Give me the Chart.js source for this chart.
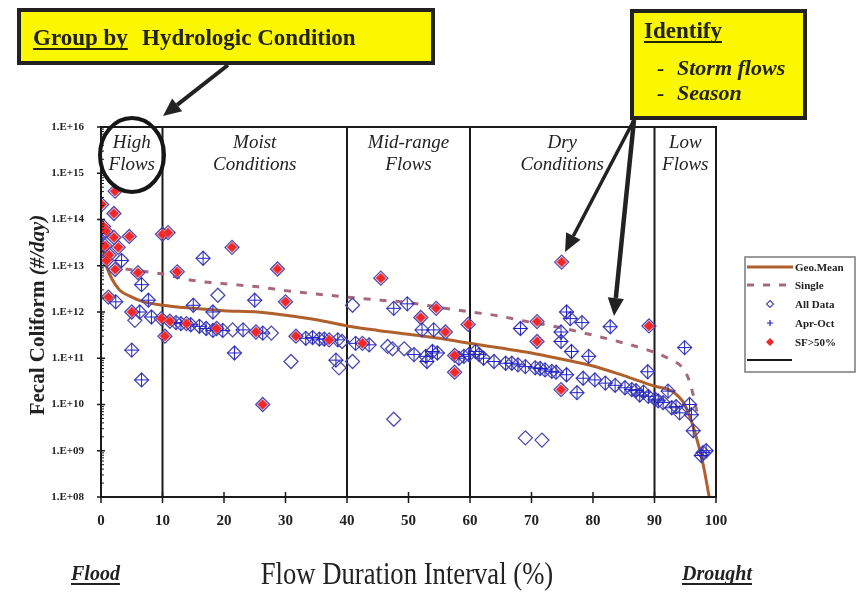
<!DOCTYPE html>
<html lang="en">
<head>
<meta charset="UTF-8">
<title>Fecal Coliform Load Duration Curve</title>
<script src="https://cdn.jsdelivr.net/npm/chart.js"></script>
<style>
  html, body { margin: 0; padding: 0; background: #fff; }
  #wrap { width: 868px; height: 597px; }
</style>
</head>
<body>
<div id="wrap"><canvas id="ldc" width="868" height="597"></canvas></div>
<script>
// x = flow duration interval (%), y = fecal coliform load (#/day)
const geoMeanX = [0.2, 0.5, 1, 1.8, 3, 5, 6.7, 10, 15, 20, 25.5, 30, 35, 40, 45, 50, 55, 60, 65, 70, 75, 80, 85, 90, 92.8, 94.9, 96.5, 97.9, 98.9];
const geoMeanY = [3.7e13, 1.6e13, 8.9e12, 5.1e12, 3.0e12, 2.1e12, 1.7e12, 1.4e12, 1.2e12, 1.07e12, 1.0e12, 8.5e11, 6.8e11, 5.0e11, 4.0e11, 3.3e11, 2.7e11, 2.1e11, 1.66e11, 1.3e11, 9.5e10, 6.8e10, 4.2e10, 2.5e10, 1.95e10, 1.0e10, 2.7e9, 5.1e8, 1.0e8];

const singleX = [4, 10, 15, 20, 25.5, 30, 35, 40, 45.5, 50, 55, 59, 64.5, 69, 74, 79.8, 85.2, 87.9, 90.3, 92.8, 94.4, 95.5, 96.3, 97.1];
const singleY = [8.5e12, 6.6e12, 4.8e12, 4.1e12, 3.5e12, 2.9e12, 2.45e12, 2.1e12, 1.8e12, 1.6e12, 1.26e12, 1.05e12, 8.3e11, 6.3e11, 4.8e11, 3.2e11, 2.1e11, 1.66e11, 1.3e11, 9.1e10, 6.6e10, 3.7e10, 1.6e10, 5.2e9];

// samples with single sample > 50% flagged (red)
const sfX = [2.3, 0.1, 2.1, 0.4, 0.8, 2.1, 4.6, 2.8, 1.35, 0.65, 0.9, 2.3, 6.0, 1.2, 5.0, 10.0, 10.9, 12.4, 21.3, 28.7, 30.0, 9.8, 10.4, 11.2, 13.9, 18.8, 25.2, 26.3, 31.7, 37.1, 42.5, 45.5, 54.5, 52.0, 56.0, 59.7, 57.5, 57.5, 74.9, 74.8, 70.9, 70.9, 89.1];
const sfY = [4.1e14, 2.1e14, 1.35e14, 7.1e13, 5.6e13, 4.1e13, 4.3e13, 2.5e13, 1.7e13, 2.7e13, 1.3e13, 8.3e12, 7.1e12, 2.1e12, 1.0e12, 4.8e13, 5.2e13, 7.4e12, 2.5e13, 8.5e12, 1.66e12, 7.2e11, 3.0e11, 6.3e11, 5.6e11, 4.4e11, 3.7e11, 1.0e10, 3.0e11, 2.5e11, 2.1e11, 5.4e12, 1.2e12, 7.6e11, 3.7e11, 5.4e11, 1.15e11, 5.0e10, 1.2e13, 2.1e10, 6.2e11, 2.3e11, 5.0e11];

// samples taken April - October
const aprOctX = [3.35, 6.6, 2.4, 7.7, 6.3, 8.2, 5.0, 6.6, 0.2,
  16.6, 25.0, 15.0, 18.2, 12.2, 13.0, 14.6, 16.0, 17.1, 18.2, 19.8, 23.1, 26.3, 21.7, 33.3, 34.4, 35.5, 36.3, 38.5, 38.2,
  41.4, 43.6, 47.6, 49.8, 52.2, 54.1, 50.9, 52.8, 53.9, 54.7, 53.0, 58.2, 59.0, 59.8,
  60.9, 61.5, 62.2, 63.9, 65.8, 66.8, 67.8, 69.0, 70.6, 71.4, 72.2, 73.3, 74.0, 75.7, 77.4, 78.4, 80.3, 82.0, 83.6, 85.2, 86.3, 87.0,
  68.2, 75.7, 78.2, 74.8, 74.8, 76.5, 79.3, 82.8, 76.3, 88.9, 87.6, 89.0, 88.2,
  90.1, 91.4, 92.2, 92.8, 94.1, 95.7, 96.0, 96.3, 94.9, 97.9, 98.4, 97.6, 90.6, 93.5];
const aprOctY = [1.3e13, 3.9e12, 1.66e12, 1.8e12, 1.0e12, 7.8e11, 1.5e11, 3.4e10, 5.0e13,
  1.45e13, 1.8e12, 1.4e12, 1.0e12, 5.9e11, 5.6e11, 5.3e11, 4.9e11, 4.4e11, 4.0e11, 4.0e11, 4.1e11, 3.5e11, 1.3e11, 2.7e11, 2.8e11, 2.6e11, 2.6e11, 2.5e11, 9.1e10,
  2.1e11, 1.95e11, 1.2e12, 1.5e12, 4.1e11, 4.1e11, 1.2e11, 1.1e11, 1.4e11, 1.3e11, 8.5e10, 1.0e11, 1.1e11, 1.2e11,
  1.4e11, 1.2e11, 1.0e11, 8.5e10, 7.8e10, 7.8e10, 7.2e10, 6.6e10, 6.2e10, 6.0e10, 5.6e10, 5.2e10, 5.0e10, 4.4e10, 1.8e10, 3.7e10, 3.4e10, 2.9e10, 2.6e10, 2.3e10, 2.1e10, 2.0e10,
  4.4e11, 1.0e12, 5.9e11, 3.7e11, 2.3e11, 1.4e11, 1.1e11, 4.8e11, 7.2e11, 5.1e10, 1.6e10, 1.5e10, 1.85e10,
  1.3e10, 1.1e10, 1.95e10, 8.5e9, 6.6e9, 1.0e10, 6.0e9, 2.7e9, 1.7e11, 9.1e8, 1.0e9, 7.9e8, 1.2e10, 9.0e9];

// remaining samples (open diamonds only)
const otherX = [5.5, 19.0, 21.4, 27.7, 30.9, 39.2, 38.7, 40.9, 40.9, 46.6, 47.6, 47.4, 49.3, 69.0, 71.7];
const otherY = [6.6e11, 2.3e12, 4.1e11, 3.5e11, 8.5e10, 2.3e11, 6.2e10, 1.4e12, 8.5e10, 1.8e11, 4.8e9, 1.6e11, 1.6e11, 1.9e9, 1.7e9];

const dividers = [10, 40, 60, 90];
const zoneLabels = [['High', 'Flows'], ['Moist', 'Conditions'], ['Mid-range', 'Flows'], ['Dry', 'Conditions'], ['Low', 'Flows']];
const xTicks = [0, 10, 20, 30, 40, 50, 60, 70, 80, 90, 100];
const yTicks = [1e8, 1e9, 1e10, 1e11, 1e12, 1e13, 1e14, 1e15, 1e16];

const C = {
    geo: '#b0602c',
    single: '#a8687c',
    diamond: '#4a4ab6',
    plus: '#2020c4',
    red: '#f0282a',
    ink: '#222',
    yellow: '#fbf700'
};
const serif = "'Liberation Serif', 'DejaVu Serif', serif";

const pts = (xs, ys) => xs.map((v, i) => ({ x: v, y: ys[i] }));
const allX = [...sfX, ...aprOctX, ...otherX];
const allY = [...sfY, ...aprOctY, ...otherY];

const dividerSets = dividers.map(d => ({
    label: '',
    data: [{ x: d, y: yTicks[0] }, { x: d, y: yTicks[yTicks.length - 1] }],
    showLine: true, borderColor: '#1a1a1a', borderWidth: 2, pointRadius: 0, order: 6
}));

function arrow(ctx, x1, y1, x2, y2, w, head) {
    const ang = Math.atan2(y2 - y1, x2 - x1);
    const bx = x2 - Math.cos(ang) * head, by = y2 - Math.sin(ang) * head;
    ctx.strokeStyle = C.ink;
    ctx.lineWidth = w;
    ctx.beginPath();
    ctx.moveTo(x1, y1);
    ctx.lineTo(bx, by);
    ctx.stroke();
    ctx.fillStyle = C.ink;
    ctx.beginPath();
    ctx.moveTo(x2, y2);
    ctx.lineTo(bx + Math.sin(ang) * head * 0.45, by - Math.cos(ang) * head * 0.45);
    ctx.lineTo(bx - Math.sin(ang) * head * 0.45, by + Math.cos(ang) * head * 0.45);
    ctx.closePath();
    ctx.fill();
}

function underline(ctx, x, y, w, lw) {
    ctx.fillRect(x, y, w, lw);
}

const overlay = {
    id: 'overlay',
    afterDraw(chart) {
        const { ctx, chartArea: a, scales: { x, y } } = chart;
        ctx.save();

        // frame and tick marks
        ctx.strokeStyle = '#1a1a1a';
        ctx.lineWidth = 2;
        ctx.strokeRect(a.left, a.top, a.right - a.left, a.bottom - a.top);
        ctx.lineWidth = 1.5;
        ctx.beginPath();
        xTicks.forEach(v => {
            const px = x.getPixelForValue(v);
            ctx.moveTo(px, a.bottom - 5);
            ctx.lineTo(px, a.bottom + 6);
        });
        yTicks.forEach(v => {
            const py = y.getPixelForValue(v);
            ctx.moveTo(a.left - 4, py);
            ctx.lineTo(a.left + 4, py);
        });
        ctx.stroke();
        ctx.lineWidth = 1;
        ctx.beginPath();
        for (let i = 0; i < yTicks.length - 1; i++) {
            for (let m = 2; m < 10; m++) {
                const py = y.getPixelForValue(yTicks[i] * m);
                ctx.moveTo(a.left, py);
                ctx.lineTo(a.left + 3, py);
            }
        }
        ctx.stroke();

        // hydrologic zone names
        const bounds = [0, ...dividers, 100];
        ctx.fillStyle = C.ink;
        ctx.font = 'italic 19px ' + serif;
        ctx.textAlign = 'center';
        ctx.textBaseline = 'alphabetic';
        zoneLabels.forEach((lines, i) => {
            const cx = x.getPixelForValue((bounds[i] + bounds[i + 1]) / 2);
            ctx.fillText(lines[0], cx, a.top + 21);
            ctx.fillText(lines[1], cx, a.top + 43);
        });

        // circle round "High Flows"
        ctx.strokeStyle = '#161616';
        ctx.lineWidth = 4;
        ctx.beginPath();
        ctx.ellipse(132, 155, 32, 37, 0, 0, Math.PI * 2);
        ctx.stroke();

        // yellow call-out boxes
        ctx.fillStyle = C.yellow;
        ctx.fillRect(19, 10, 414, 53);
        ctx.fillRect(632, 11, 173, 107);
        ctx.strokeStyle = C.ink;
        ctx.lineWidth = 4;
        ctx.strokeRect(19, 10, 414, 53);
        ctx.strokeRect(632, 11, 173, 107);

        ctx.fillStyle = '#24240c';
        ctx.textAlign = 'left';
        ctx.font = 'bold 23px ' + serif;
        ctx.fillText('Group by', 33, 45);
        underline(ctx, 33, 48, ctx.measureText('Group by').width, 2);
        ctx.fillText('Hydrologic Condition', 142, 45);
        ctx.fillText('Identify', 644, 38);
        underline(ctx, 644, 41, ctx.measureText('Identify').width, 2);
        ctx.font = 'bold italic 22px ' + serif;
        ctx.fillText('-', 657, 75);
        ctx.fillText('Storm flows', 677, 75);
        ctx.fillText('-', 657, 100);
        ctx.fillText('Season', 677, 100);

        // arrows
        arrow(ctx, 228, 65, 163, 116, 4, 18);
        arrow(ctx, 634, 120, 565, 252, 3.5, 18);
        arrow(ctx, 634, 120, 614, 316, 4.5, 18);

        // legend
        const lx = 745, ly = 257, lw = 110, lh = 115;
        ctx.fillStyle = '#fff';
        ctx.fillRect(lx, ly, lw, lh);
        ctx.strokeStyle = '#7a7a7a';
        ctx.lineWidth = 1.5;
        ctx.strokeRect(lx, ly, lw, lh);
        const rows = [267, 285, 304, 323, 342, 360];
        ctx.lineWidth = 3;
        ctx.strokeStyle = C.geo;
        ctx.beginPath(); ctx.moveTo(lx + 2, rows[0]); ctx.lineTo(lx + 48, rows[0]); ctx.stroke();
        ctx.strokeStyle = C.single;
        ctx.setLineDash([7, 9]);
        ctx.beginPath(); ctx.moveTo(lx + 2, rows[1]); ctx.lineTo(lx + 48, rows[1]); ctx.stroke();
        ctx.setLineDash([]);
        const mx = lx + 25;
        ctx.lineWidth = 1.2;
        ctx.strokeStyle = C.diamond;
        ctx.beginPath();
        ctx.moveTo(mx, rows[2] - 3.5); ctx.lineTo(mx + 3.5, rows[2]); ctx.lineTo(mx, rows[2] + 3.5); ctx.lineTo(mx - 3.5, rows[2]); ctx.closePath();
        ctx.stroke();
        ctx.strokeStyle = C.plus;
        ctx.beginPath();
        ctx.moveTo(mx - 3, rows[3]); ctx.lineTo(mx + 3, rows[3]);
        ctx.moveTo(mx, rows[3] - 3); ctx.lineTo(mx, rows[3] + 3);
        ctx.stroke();
        ctx.fillStyle = C.red;
        ctx.beginPath();
        ctx.moveTo(mx, rows[4] - 4); ctx.lineTo(mx + 4, rows[4]); ctx.lineTo(mx, rows[4] + 4); ctx.lineTo(mx - 4, rows[4]); ctx.closePath();
        ctx.fill();
        ctx.strokeStyle = '#1a1a1a';
        ctx.lineWidth = 2;
        ctx.beginPath(); ctx.moveTo(lx + 2, rows[5]); ctx.lineTo(lx + 47, rows[5]); ctx.stroke();

        ctx.fillStyle = C.ink;
        ctx.font = 'bold 11px ' + serif;
        ctx.textBaseline = 'middle';
        ['Geo.Mean', 'Single', 'All Data', 'Apr-Oct', 'SF>50%'].forEach((t, i) => {
            ctx.fillText(t, lx + 50, rows[i] + 1);
        });

        // axis titles
        ctx.textBaseline = 'alphabetic';
        ctx.save();
        ctx.translate(44, 315);
        ctx.rotate(-Math.PI / 2);
        ctx.font = 'bold 21px ' + serif;
        const t1 = 'Fecal Coliform ', t2 = '(#/day)';
        const w1 = ctx.measureText(t1).width;
        ctx.font = 'bold italic 21px ' + serif;
        const w2 = ctx.measureText(t2).width;
        ctx.textAlign = 'left';
        ctx.font = 'bold 21px ' + serif;
        ctx.fillText(t1, -(w1 + w2) / 2, 0);
        ctx.font = 'bold italic 21px ' + serif;
        ctx.fillText(t2, -(w1 + w2) / 2 + w1, 0);
        ctx.restore();

        ctx.save();
        ctx.translate(407, 584);
        ctx.scale(0.86, 1);
        ctx.font = '31px ' + serif;
        ctx.textAlign = 'center';
        ctx.fillText('Flow Duration Interval (%)', 0, 0);
        ctx.restore();

        ctx.font = 'bold italic 20px ' + serif;
        ctx.textAlign = 'left';
        ctx.fillText('Flood', 71, 580);
        underline(ctx, 71, 583, ctx.measureText('Flood').width, 2);
        ctx.fillText('Drought', 682, 580);
        underline(ctx, 682, 583, ctx.measureText('Drought').width, 2);

        ctx.restore();
    }
};

new Chart(document.getElementById('ldc'), {
    type: 'scatter',
    data: {
        datasets: [
            {
                label: 'SF>50%', data: pts(sfX, sfY), pointStyle: 'rectRot', pointRadius: 5,
                pointBackgroundColor: C.red, pointBorderColor: '#f25a5a', pointBorderWidth: 1, order: 0
            },
            {
                label: 'Apr-Oct', data: pts(aprOctX, aprOctY), pointStyle: 'cross', pointRadius: 7,
                pointBorderColor: C.plus, pointBorderWidth: 1, order: 1
            },
            {
                label: 'All Data', data: pts(allX, allY), pointStyle: 'rectRot', pointRadius: 7,
                pointBackgroundColor: 'rgba(0,0,0,0)', pointBorderColor: C.diamond, pointBorderWidth: 1.3, order: 2
            },
            {
                label: 'Geo.Mean', data: pts(geoMeanX, geoMeanY), showLine: true, pointRadius: 0,
                borderColor: C.geo, borderWidth: 3, cubicInterpolationMode: 'monotone', order: 3
            },
            {
                label: 'Single', data: pts(singleX, singleY), showLine: true, pointRadius: 0,
                borderColor: C.single, borderWidth: 3, borderDash: [7, 9], cubicInterpolationMode: 'monotone', order: 4
            },
            ...dividerSets
        ]
    },
    options: {
        responsive: false,
        devicePixelRatio: 1,
        animation: false,
        events: [],
        layout: { padding: { top: 127, right: 152, left: 0, bottom: 0 } },
        plugins: { legend: { display: false }, tooltip: { enabled: false } },
        scales: {
            x: {
                type: 'linear', min: 0, max: 100,
                afterBuildTicks: s => { s.ticks = xTicks.map(v => ({ value: v })); },
                afterFit: s => { s.height = 100; },
                grid: { display: false }, border: { display: false },
                ticks: { font: { family: serif, size: 15, weight: 'bold' }, color: C.ink, padding: 7, maxRotation: 0, autoSkip: false }
            },
            y: {
                type: 'logarithmic', min: 1e8, max: 1e16,
                afterBuildTicks: s => { s.ticks = yTicks.map(v => ({ value: v })); },
                afterFit: s => { s.width = 101; },
                grid: { display: false }, border: { display: false },
                ticks: {
                    font: { family: serif, size: 11, weight: 'bold' }, color: C.ink, padding: 9, autoSkip: false,
                    callback: v => '1.E+' + String(Math.round(Math.log10(v))).padStart(2, '0')
                }
            }
        }
    },
    plugins: [overlay]
});
</script>
</body>
</html>
